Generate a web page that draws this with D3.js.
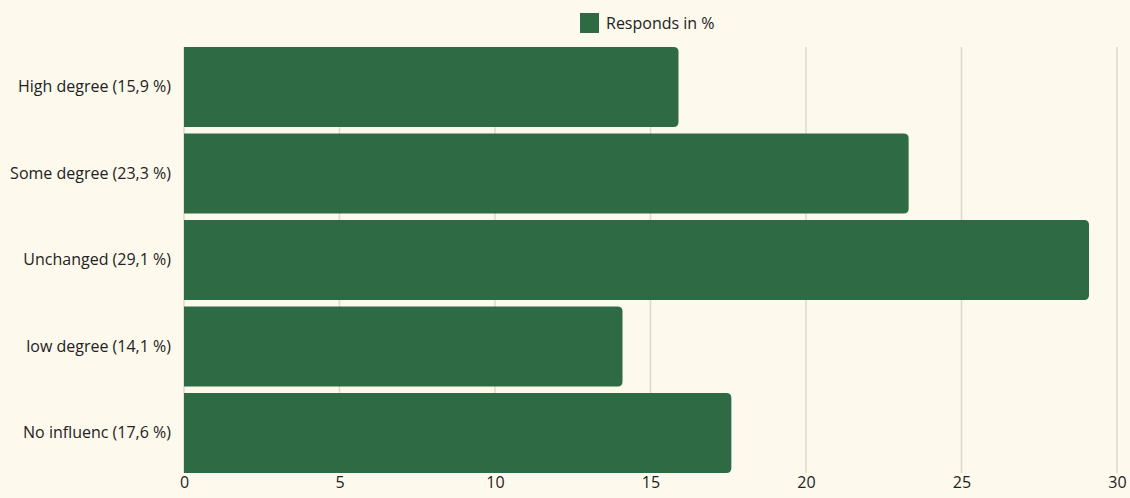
<!DOCTYPE html>
<html>
<head>
<meta charset="utf-8">
<script src="https://cdn.jsdelivr.net/npm/d3@7"></script>
<style>
  html, body { margin: 0; padding: 0; background: #fdf9ed; }
  svg { display: block; font-family: "Open Sans", "Noto Sans", sans-serif; }
</style>
</head>
<body>
<svg id="chart" width="1130" height="498"></svg>
<script>
// Survey answers and their share of responses (%)
const categories = ["High degree", "Some degree", "Unchanged", "low degree", "No influenc"];
const values = [15.9, 23.3, 29.1, 14.1, 17.6];
const xTicks = [0, 5, 10, 15, 20, 25, 30];
const seriesName = "Responds in %";

const svg = d3.select("#chart");
const W = 1130, H = 498;
const margin = { left: 184, right: 13, top: 47, bottom: 25 };
const barColor = "#2e6b45";
const gridColor = "#dcd8cc";
const textColor = "#222";
const fontSize = 16;

const fmt = v => v.toFixed(1).replace(".", ",");
const labels = categories.map((c, i) => `${c} (${fmt(values[i])} %)`);

const x = d3.scaleLinear().domain([0, 30]).range([margin.left, W - margin.right]);
const y = d3.scaleBand().domain(labels).range([margin.top, H - margin.bottom])
  .paddingInner(0.075).paddingOuter(0);

// vertical grid lines
svg.append("g").selectAll("line").data(xTicks).join("line")
  .attr("x1", d => x(d)).attr("x2", d => x(d))
  .attr("y1", margin.top).attr("y2", H - margin.bottom)
  .attr("stroke", gridColor).attr("stroke-width", 1.5);

// bars: square on the baseline, rounded at the value end
const r = 5;
svg.append("g").selectAll("path").data(values).join("path")
  .attr("fill", barColor)
  .attr("d", (v, i) => {
    const x0 = x(0), x1 = x(v), y0 = y(labels[i]), h = y.bandwidth();
    return `M${x0},${y0}H${x1 - r}Q${x1},${y0} ${x1},${y0 + r}V${y0 + h - r}Q${x1},${y0 + h} ${x1 - r},${y0 + h}H${x0}Z`;
  });

// x axis labels
const xAxis = d3.axisBottom(x).tickValues(xTicks).tickSize(0).tickPadding(4);
const gx = svg.append("g").attr("transform", `translate(0,${H - margin.bottom})`).call(xAxis);
gx.select(".domain").remove();
gx.selectAll("text").attr("font-size", fontSize).attr("fill", textColor).attr("font-family", "Open Sans, Noto Sans, sans-serif");

// y axis labels
const yAxis = d3.axisLeft(y).tickSize(0).tickPadding(13);
const gy = svg.append("g").attr("transform", `translate(${margin.left},0)`).call(yAxis);
gy.select(".domain").remove();
gy.selectAll("text").attr("font-size", fontSize).attr("fill", textColor).attr("font-family", "Open Sans, Noto Sans, sans-serif");

// legend
const lg = svg.append("g").attr("transform", "translate(580,13)");
lg.append("rect").attr("width", 19).attr("height", 20).attr("fill", barColor);
lg.append("text").attr("x", 26).attr("y", 15.5).attr("font-size", fontSize).attr("fill", textColor).text(seriesName);
</script>
</body>
</html>
